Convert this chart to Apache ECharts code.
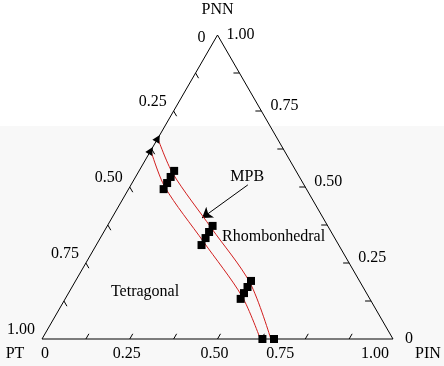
<!DOCTYPE html>
<html>
<head>
<meta charset="utf-8">
<script src="https://cdn.jsdelivr.net/npm/echarts@6/dist/echarts.min.js"></script>
<style>
html,body{margin:0;padding:0;background:#fff;}
#chart{width:444px;height:366px;}
</style>
</head>
<body>
<div id="chart"></div>
<script>
// ---- data (ternary compositions: PIN fraction, PNN fraction; PT = remainder) ----
const tickValues = [0, 0.25, 0.5, 0.75, 1];
const tickLabels = ['0', '0.25', '0.50', '0.75', '1.00'];
const minorTicks = [0.125, 0.25, 0.375, 0.5, 0.625, 0.75, 0.875];
const vertexNames = ['PT', 'PIN', 'PNN'];

const leftPIN  = [0, 0.10, 0.30, 0.50, 0.622];
const leftPNN  = [0.62, 0.50, 0.32, 0.14, 0];
const rightPIN = [0, 0.10, 0.30, 0.50, 0.652];
const rightPNN = [0.66, 0.545, 0.365, 0.185, 0];

const squarePIN = [0.10, 0.10, 0.10, 0.10, 0.30, 0.30, 0.30, 0.30, 0.50, 0.50, 0.50, 0.50, 0.628, 0.661];
const squarePNN = [0.493, 0.513, 0.533, 0.553, 0.309, 0.332, 0.352, 0.372, 0.132, 0.151, 0.171, 0.191, 0, 0];
const trianglePIN = [0, 0];
const trianglePNN = [0.62, 0.66];

const regionNames = ['Tetragonal', 'Rhombonhedral', 'MPB'];
const regionPIN = [0.216, 0.345, 0.318];
const regionPNN = [0.155, 0.336, 0.533];
const arrowPIN = [0.333, 0.257];
const arrowPNN = [0.507, 0.398];

// label placement tweaks (pixels) for the bottom axis labels, as in the original figure
const bottomLabelShift = [3, -3, -3, -25, -18];

// ---- ternary -> cartesian ----
const H = Math.sqrt(3) / 2;
function tern(pin, pnn) { return [pin + pnn / 2, pnn * H]; }
const zip = (a, b) => a.map((v, i) => tern(v, b[i]));

const FONT = '"Liberation Serif", "Times New Roman", serif';
const txt = (x, y, s, align, va) => ({
  type: 'text', x: x, y: y,
  style: { text: s, font: '16px ' + FONT, fill: '#000', align: align || 'center', verticalAlign: va || 'middle' }
});

const chart = echarts.init(document.getElementById('chart'), null, { renderer: 'canvas' });
chart.setOption({
  animation: false,
  backgroundColor: '#ffffff',
  graphic: [
    { type: 'rect', shape: { x: 0, y: 126, width: 444, height: 240 }, style: { fill: '#f8f8f8' }, z: -10 }
  ],
  grid: { left: 42, top: 35, width: 351, height: 304 },
  xAxis: { type: 'value', min: 0, max: 1, show: false },
  yAxis: { type: 'value', min: 0, max: H, show: false },
  series: [
    { // triangle frame
      type: 'line', data: [tern(0, 0), tern(1, 0), tern(0, 1), tern(0, 0)],
      symbol: 'none', lineStyle: { color: '#000', width: 1 }, clip: false, z: 2
    },
    { // ticks
      type: 'custom', data: minorTicks.map(v => [v]), clip: false, z: 2,
      renderItem: function (params, api) {
        const v = api.value(0);
        const pb = api.coord(tern(v, 0));
        const pr = api.coord(tern(1 - v, v));
        const pl = api.coord(tern(0, 1 - v));
        const L = 6;
        const st = { stroke: '#000', lineWidth: 1 };
        return { type: 'group', children: [
          { type: 'line', shape: { x1: pb[0], y1: pb[1], x2: pb[0] + L * 0.5, y2: pb[1] - L * H }, style: st },
          { type: 'line', shape: { x1: pr[0], y1: pr[1], x2: pr[0] - L, y2: pr[1] }, style: st },
          { type: 'line', shape: { x1: pl[0], y1: pl[1], x2: pl[0] + L * 0.5, y2: pl[1] + L * H }, style: st }
        ]};
      }
    },
    { // tick labels
      type: 'custom', data: tickValues.map((v, i) => [v, i]), clip: false, z: 3,
      renderItem: function (params, api) {
        const v = api.value(0), i = api.value(1);
        const s = tickLabels[i];
        const pb = api.coord(tern(v, 0));
        const pl = api.coord(tern(0, 1 - v));
        const pr = api.coord(tern(1 - v, v));
        const kids = [txt(pb[0] + bottomLabelShift[i], pb[1] + 15, s, 'center')];
        if (v === 0) {
          kids.push(txt(pl[0] - 12, pl[1] + 3, s, 'right'));
          kids.push(txt(pr[0] + 12, pr[1] + 0, s, 'left'));
        } else {
          kids.push(txt(pl[0] - 7, pl[1] - 9, s, 'right'));
          kids.push(txt(pr[0] + 9, pr[1] - (v === 1 ? 0 : 5), s, 'left'));
        }
        return { type: 'group', children: kids };
      }
    },
    { // vertex names
      type: 'custom', data: [[0], [1], [2]], clip: false, z: 3,
      renderItem: function (params, api) {
        const i = api.value(0);
        if (i === 0) { const p = api.coord(tern(0, 0)); return txt(p[0] - 27, p[1] + 15, vertexNames[0], 'center'); }
        if (i === 1) { const p = api.coord(tern(1, 0)); return txt(p[0] + 35, p[1] + 15, vertexNames[1], 'center'); }
        const p = api.coord(tern(0, 1)); return txt(p[0], p[1] - 25, vertexNames[2], 'center');
      }
    },
    { // region labels
      type: 'custom', data: regionNames.map((n, i) => [regionPIN[i], regionPNN[i], i]), clip: false, z: 3,
      renderItem: function (params, api) {
        const i = api.value(2);
        const p = api.coord(tern(api.value(0), api.value(1)));
        return txt(p[0], p[1], regionNames[i], i === 1 ? 'left' : 'center');
      }
    },
    { // MPB arrow
      type: 'lines', coordinateSystem: 'cartesian2d', z: 3,
      data: [{ coords: [tern(arrowPIN[0], arrowPNN[0]), tern(arrowPIN[1], arrowPNN[1])] }],
      symbol: ['none', 'arrow'], symbolSize: [0, 10],
      lineStyle: { color: '#000', width: 1, opacity: 1 }
    },
    { type: 'line', data: zip(leftPIN, leftPNN), smooth: 0.3, symbol: 'none', clip: false,
      lineStyle: { color: '#d21f1f', width: 1 }, z: 4 },
    { type: 'line', data: zip(rightPIN, rightPNN), smooth: 0.3, symbol: 'none', clip: false,
      lineStyle: { color: '#d21f1f', width: 1 }, z: 4 },
    { type: 'scatter', data: zip(squarePIN, squarePNN), symbol: 'rect', symbolSize: 8, clip: false,
      itemStyle: { color: '#000', opacity: 1 }, z: 5 },
    { type: 'scatter', data: zip(trianglePIN, trianglePNN), symbol: 'triangle', symbolSize: 8, symbolRotate: -30, clip: false,
      itemStyle: { color: '#000', opacity: 1 }, z: 5 }
  ]
});
</script>
</body>
</html>
